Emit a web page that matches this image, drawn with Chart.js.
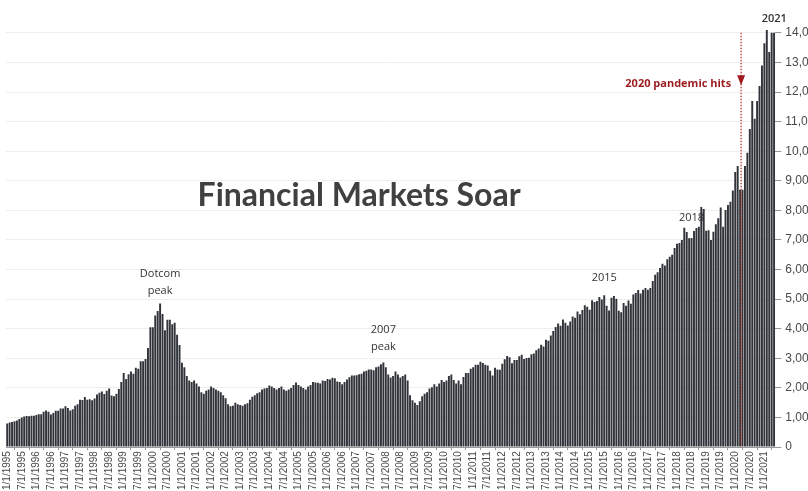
<!DOCTYPE html>
<html>
<head>
<meta charset="utf-8">
<script src="https://cdn.jsdelivr.net/npm/chart.js@4"></script>
<style>
html, body { margin:0; padding:0; background:#fff; overflow:hidden; width:808px; height:491px; }
#wrap { position:absolute; left:0; top:0; width:826px; height:491px; }
canvas { display:block; }
</style>
</head>
<body>
<div id="wrap"><canvas id="c" width="826" height="491"></canvas></div>
<script>
// ---- Monthly values, one array per year ----
const v1995 = [800, 830, 850, 870, 900, 950, 1000, 1030, 1050, 1040, 1060, 1060];
const v1996 = [1080, 1110, 1110, 1190, 1240, 1190, 1100, 1150, 1230, 1230, 1300, 1300];
const v1997 = [1380, 1320, 1240, 1280, 1400, 1450, 1600, 1590, 1690, 1600, 1620, 1580];
const v1998 = [1640, 1780, 1840, 1880, 1790, 1900, 1980, 1740, 1720, 1800, 1960, 2200];
const v1999 = [2500, 2300, 2460, 2550, 2480, 2680, 2650, 2900, 2900, 2980, 3350, 4050];
const v2000 = [4050, 4450, 4600, 4850, 4500, 3950, 4300, 4300, 4150, 4200, 3800, 3450];
const v2001 = [2850, 2700, 2400, 2250, 2200, 2250, 2150, 2050, 1850, 1800, 1900, 1950];
const v2002 = [2050, 2000, 1950, 1900, 1850, 1750, 1650, 1450, 1380, 1400, 1500, 1450];
const v2003 = [1420, 1400, 1450, 1480, 1600, 1700, 1750, 1820, 1850, 1950, 1980, 2000];
const v2004 = [2080, 2050, 2000, 1950, 2000, 2050, 1950, 1900, 1950, 2000, 2100, 2180];
const v2005 = [2100, 2050, 2000, 1950, 2050, 2100, 2200, 2180, 2170, 2150, 2250, 2230];
const v2006 = [2300, 2280, 2340, 2330, 2220, 2200, 2120, 2200, 2280, 2360, 2420, 2420];
const v2007 = [2430, 2460, 2480, 2550, 2580, 2620, 2620, 2600, 2700, 2720, 2800, 2860];
const v2008 = [2700, 2450, 2350, 2400, 2550, 2450, 2350, 2400, 2450, 2250, 1750, 1580];
const v2009 = [1500, 1420, 1550, 1720, 1800, 1850, 1980, 2020, 2120, 2050, 2150, 2270];
const v2010 = [2200, 2250, 2400, 2450, 2270, 2150, 2250, 2120, 2370, 2500, 2500, 2650];
const v2011 = [2700, 2780, 2780, 2880, 2840, 2780, 2760, 2580, 2420, 2680, 2620, 2610];
const v2012 = [2820, 2970, 3080, 3040, 2830, 2940, 2940, 3070, 3120, 2980, 3010, 3020];
const v2013 = [3140, 3160, 3270, 3330, 3460, 3400, 3630, 3590, 3770, 3920, 4060, 4180];
const v2014 = [4100, 4310, 4200, 4110, 4240, 4410, 4370, 4580, 4490, 4630, 4790, 4740];
const v2015 = [4640, 4960, 4900, 4940, 5070, 4990, 5130, 4780, 4620, 5050, 5110, 5010];
const v2016 = [4610, 4560, 4870, 4780, 4950, 4840, 5160, 5210, 5310, 5190, 5320, 5380];
const v2017 = [5320, 5380, 5615, 5825, 5910, 6050, 6200, 6140, 6350, 6430, 6500, 6730];
const v2018 = [6870, 6900, 7000, 7410, 7270, 7060, 7070, 7300, 7400, 7450, 8110, 8050];
const v2019 = [7310, 7330, 7000, 7280, 7530, 7730, 8100, 7450, 8010, 8180, 8290, 8670];
const v2020 = [9300, 9500, 8700, 8700, 9500, 9950, 10750, 11700, 11100, 11700, 12200, 12900];
const v2021 = [13650, 14100, 13350, 14000, 14000];

const years = [1995,1996,1997,1998,1999,2000,2001,2002,2003,2004,2005,2006,2007,2008,2009,2010,2011,2012,2013,2014,2015,2016,2017,2018,2019,2020,2021];
const yearValues = [v1995,v1996,v1997,v1998,v1999,v2000,v2001,v2002,v2003,v2004,v2005,v2006,v2007,v2008,v2009,v2010,v2011,v2012,v2013,v2014,v2015,v2016,v2017,v2018,v2019,v2020,v2021];
const shownMonths = ['1', '7'];            // x tick labels shown: January and July
const yTicks = [0,1000,2000,3000,4000,5000,6000,7000,8000,9000,10000,11000,12000,13000,14000];

const titleText = 'Financial Markets Soar';
// annotations: [text lines, category label, value of first line]
const noteTexts  = [['Dotcom','peak'], ['2007','peak'], ['2015'], ['2018']];
const noteCats   = ['4/1/2000', '12/1/2007', '7/1/2015', '7/1/2018'];
const noteValues = [5860, 3950, 5720, 7750];
const peakLabel = '2021';
const pandemicText = '2020 pandemic hits';
const pandemicCat = '3/1/2020';

// ---- build category table ----
const labels = [];
const values = [];
years.forEach((y, yi) => {
  yearValues[yi].forEach((v, m) => { labels.push((m + 1) + '/1/' + y); values.push(v); });
});

const annotPlugin = {
  id: 'annot',
  afterDatasetsDraw(chart) {
    const ctx = chart.ctx, xs = chart.scales.x, ys = chart.scales.y, ca = chart.chartArea;
    ctx.save();
    // title
    ctx.fillStyle = '#404040';
    ctx.font = 'bold 32px Lato, "Liberation Sans", sans-serif';
    ctx.textAlign = 'center';
    ctx.textBaseline = 'middle';
    ctx.fillText(titleText, xs.getPixelForValue(labels.indexOf('2/1/2007')), ys.getPixelForValue(8480));
    // notes
    ctx.fillStyle = '#333';
    ctx.font = '11px "Open Sans", "Liberation Sans", sans-serif';
    noteTexts.forEach((lines, i) => {
      const x = xs.getPixelForValue(labels.indexOf(noteCats[i]));
      let y = ys.getPixelForValue(noteValues[i]);
      lines.forEach(t => { ctx.fillText(t, x, y); y += 17; });
    });
    ctx.font = '600 11px "Open Sans", "Liberation Sans", sans-serif';
    ctx.fillText(peakLabel, ca.right - 1, ys.getPixelForValue(14470));
    // pandemic line
    const px = xs.getPixelForValue(labels.indexOf(pandemicCat)) + 1;
    ctx.strokeStyle = '#b22a2a';
    ctx.lineWidth = 1.2;
    ctx.setLineDash([1.5, 1.5]);
    ctx.beginPath();
    ctx.moveTo(px, ys.getPixelForValue(14000));
    ctx.lineTo(px, ys.getPixelForValue(0));
    ctx.stroke();
    ctx.setLineDash([]);
    const ay = ys.getPixelForValue(12400);
    ctx.fillStyle = '#a0191e';
    ctx.beginPath();
    ctx.moveTo(px - 4, ay - 5);
    ctx.lineTo(px + 4, ay - 5);
    ctx.lineTo(px, ay + 5);
    ctx.closePath();
    ctx.fill();
    ctx.fillStyle = '#9b1c1f';
    ctx.font = 'bold 11px "Open Sans", "Liberation Sans", sans-serif';
    ctx.textAlign = 'right';
    ctx.fillText(pandemicText, px - 10, ys.getPixelForValue(12260));
    ctx.restore();
  }
};

new Chart(document.getElementById('c'), {
  type: 'bar',
  data: {
    labels: labels,
    datasets: [{
      data: values,
      backgroundColor: '#303339',
      borderWidth: 0,
      barPercentage: 0.8,
      categoryPercentage: 1.0
    }]
  },
  options: {
    responsive: false,
    animation: false,
    layout: { padding: { left: 6, top: 21, right: 0, bottom: 0 } },
    plugins: { legend: { display: false }, tooltip: { enabled: false } },
    scales: {
      x: {
        grid: { display: true, drawOnChartArea: false, color: '#9a9a9a', tickLength: 3 },
        border: { display: true, color: '#9a9a9a' },
        ticks: {
          autoSkip: false, maxRotation: 90, minRotation: 90, padding: 1,
          color: '#4a4a4a',
          font: { size: 10, family: '"Liberation Sans", Arial, sans-serif' },
          callback: (v, i) => shownMonths.includes(labels[i].split('/')[0]) ? labels[i] : null
        }
      },
      y: {
        position: 'right',
        min: 0, max: 14400,
        afterBuildTicks: s => { s.ticks = yTicks.map(v => ({ value: v })); },
        grid: { color: '#eeeeee', tickColor: '#9a9a9a', tickLength: 6 },
        border: { display: false },
        ticks: {
          padding: 4, color: '#4a4a4a',
          font: { size: 12, family: '"Liberation Sans", Arial, sans-serif' },
          callback: v => v.toLocaleString('en-US')
        }
      }
    }
  },
  plugins: [annotPlugin]
});
</script>
</body>
</html>
